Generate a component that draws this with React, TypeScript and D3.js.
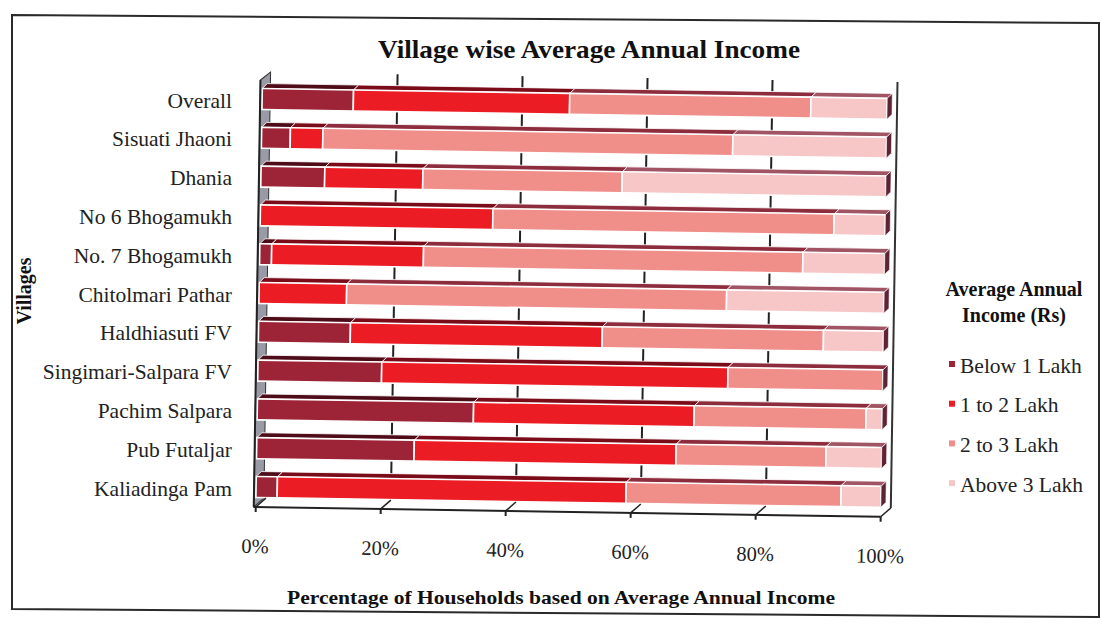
import React from "react";
import * as d3 from "d3";

const villages = [
  "Overall",
  "Sisuati Jhaoni",
  "Dhania",
  "No 6 Bhogamukh",
  "No. 7 Bhogamukh",
  "Chitolmari Pathar",
  "Haldhiasuti FV",
  "Singimari-Salpara FV",
  "Pachim Salpara",
  "Pub Futaljar",
  "Kaliadinga Pam",
];
const seriesNames = ["Below 1 Lakh", "1 to 2 Lakh", "2 to 3 Lakh", "Above 3 Lakh"];
const below1 = [14.6, 4.6, 10.2, 0, 1.9, 0, 14.7, 19.8, 34.6, 25.2, 3.4];
const oneToTwo = [34.6, 5.2, 15.7, 37.2, 24.3, 14.0, 40.3, 55.4, 35.3, 41.9, 55.8];
const twoToThree = [38.6, 65.6, 31.9, 54.6, 60.7, 60.8, 35.4, 24.8, 27.5, 24.0, 34.4];
const above3 = [12.2, 24.6, 42.2, 8.2, 13.1, 25.2, 9.6, 0, 2.6, 8.9, 6.4];
const tickValues = [0, 20, 40, 60, 80, 100];

const frontColors = ["#9c2436", "#ec1c24", "#f08e8a", "#f7c6c6"];
const topColors = ["#4e0c18", "#7a0c1a", "#8c2c3c", "#a05464"];
const sideColor = "#5e2436";

const FONT = "'Liberation Serif', 'Times New Roman', serif";

export default function App() {
  const W = 1102;
  const H = 626;
  const x = d3.scaleLinear().domain([0, 100]).range([259, 884]);
  const y = d3.scalePoint<string>().domain(villages).range([99, 487]);
  const yLab = d3.scalePoint<string>().domain(villages).range([100, 488]);

  const rows = villages.map((v, i) => ({
    village: v,
    [seriesNames[0]]: below1[i],
    [seriesNames[1]]: oneToTwo[i],
    [seriesNames[2]]: twoToThree[i],
    [seriesNames[3]]: above3[i],
  }));
  const stacked = d3.stack<any>().keys(seriesNames)(rows);

  const halfH = 10.5;
  const dx = 5;
  const dy = 5;
  const gridOff = 10;
  const floorY = 507;
  const wallTop = 72;
  const floorBack = floorY - 9;

  const bars: JSX.Element[] = [];
  villages.forEach((v, i) => {
    const cy = y(v)!;
    let last = -1;
    stacked.forEach((s, k) => {
      if (s[i][1] - s[i][0] > 0.001) last = k;
    });
    stacked.forEach((s, k) => {
      const v0 = s[i][0];
      const v1 = s[i][1];
      if (v1 - v0 <= 0.001) return;
      const x0 = x(v0);
      const x1 = x(v1);
      const top = cy - halfH;
      const bot = cy + halfH;
      bars.push(
        <polygon
          key={`t-${i}-${k}`}
          points={`${x0},${top} ${x1},${top} ${x1 + dx},${top - dy} ${x0 + dx},${top - dy}`}
          fill={topColors[k]}
          stroke="#fff"
          strokeWidth={0.8}
        />
      );
      bars.push(
        <rect
          key={`f-${i}-${k}`}
          x={x0}
          y={top}
          width={x1 - x0}
          height={bot - top}
          fill={frontColors[k]}
          stroke="#fff"
          strokeWidth={1.6}
        />
      );
      if (k === last) {
        bars.push(
          <polygon
            key={`s-${i}-${k}`}
            points={`${x1},${top} ${x1 + dx},${top - dy} ${x1 + dx},${bot - dy} ${x1},${bot}`}
            fill={sideColor}
            stroke="#fff"
            strokeWidth={0.6}
          />
        );
      }
    });
  });

  return (
    <div style={{ position: "absolute", left: 0, top: 0 }}>
      <svg width={W} height={H} style={{ display: "block", background: "#fff" }} fontFamily={FONT}>
        <rect x={0} y={0} width={W} height={H} fill="#fff" />
        <polygon
          points="12,15 1099,23 1099,617 12,609"
          fill="none"
          stroke="#2a2a2a"
          strokeWidth={2}
        />
        <text
          x={589}
          y={58}
          textAnchor="middle"
          fontSize={26}
          fontWeight="bold"
          fill="#111"
          textLength={422}
          lengthAdjust="spacingAndGlyphs"
        >
          Village wise Average Annual Income
        </text>

        <g transform="rotate(0.9, 259, 300)">
          <polygon
            points={`${x(0) - 2},${wallTop + 8} ${x(0) + 8},${wallTop} ${x(0) + 8},${floorBack} ${x(0) - 2},${floorY}`}
            fill="#9a9aa6"
            stroke="#333"
            strokeWidth={1}
          />
          {tickValues.slice(1, 5).map((t) => (
            <line
              key={`g-${t}`}
              x1={x(t) + gridOff}
              x2={x(t) + gridOff}
              y1={wallTop}
              y2={floorBack}
              stroke="#222"
              strokeWidth={2}
            />
          ))}
          <line
            x1={x(100) + gridOff}
            x2={x(100) + gridOff}
            y1={wallTop}
            y2={floorBack}
            stroke="#333"
            strokeWidth={2}
          />
          {bars}
          <line x1={x(0) - 2} x2={x(100)} y1={floorY} y2={floorY} stroke="#222" strokeWidth={2} />
          {tickValues.map((t) => (
            <g key={`ft-${t}`}>
              <line
                x1={x(t)}
                y1={floorY}
                x2={x(t) + gridOff}
                y2={floorBack}
                stroke="#222"
                strokeWidth={1.5}
              />
              <line x1={x(t)} y1={floorY} x2={x(t)} y2={floorY + 5} stroke="#222" strokeWidth={2} />
            </g>
          ))}
          <line x1={x(0) - 2} y1={wallTop + 8} x2={x(0) - 2} y2={floorY} stroke="#222" strokeWidth={2} />
          {tickValues.map((t) => (
            <text
              key={`xl-${t}`}
              x={x(t)}
              y={553}
              textAnchor="middle"
              fontSize={20.5}
              fill="#222"
            >
              {`${t}%`}
            </text>
          ))}
        </g>

        {villages.map((v) => (
          <text
            key={`yl-${v}`}
            x={232}
            y={yLab(v)!}
            dy="0.35em"
            textAnchor="end"
            fontSize={21.5}
            fill="#222"
          >
            {v}
          </text>
        ))}

        <text
          transform="translate(31,291) rotate(-90)"
          textAnchor="middle"
          fontSize={20}
          fontWeight="bold"
          fill="#111"
        >
          Villages
        </text>
        <text
          x={561}
          y={604}
          textAnchor="middle"
          fontSize={19}
          fontWeight="bold"
          fill="#111"
          textLength={548}
          lengthAdjust="spacingAndGlyphs"
        >
          Percentage of Households based on Average Annual Income
        </text>

        <text x={1014} y={296} textAnchor="middle" fontSize={20} fontWeight="bold" fill="#111">
          Average Annual
        </text>
        <text x={1014} y={322} textAnchor="middle" fontSize={20} fontWeight="bold" fill="#111">
          Income (Rs)
        </text>
        {seriesNames.map((s, k) => {
          const ly = 365 + k * 39.7;
          return (
            <g key={`lg-${s}`}>
              <rect x={949} y={ly - 4} width={6} height={6} fill={frontColors[k]} />
              <text x={960} y={ly} dy="0.35em" fontSize={21.5} fill="#222">
                {s}
              </text>
            </g>
          );
        })}
      </svg>
    </div>
  );
}
